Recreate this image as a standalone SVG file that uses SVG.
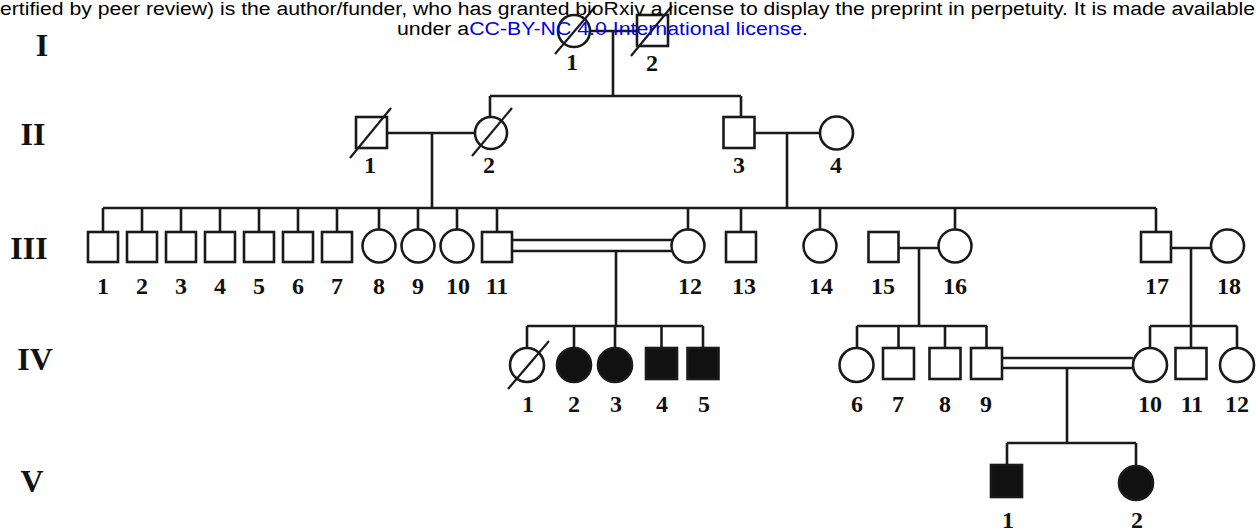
<svg xmlns="http://www.w3.org/2000/svg" width="1258" height="531" viewBox="0 0 1258 531">
<style>
.s{fill:#fff;stroke:#1a1a1a;stroke-width:2.6}
.a{fill:#111;stroke:#1a1a1a;stroke-width:2.6}
.d{stroke:#1a1a1a;stroke-width:2.2;fill:none}
.c{stroke:#1a1a1a;stroke-width:2.6;fill:none}
.n{font-family:"Liberation Serif","Times New Roman",serif;font-weight:bold;font-size:24px;fill:#111;text-anchor:middle}
.g{font-family:"Liberation Serif","Times New Roman",serif;font-weight:bold;font-size:32px;fill:#111;text-anchor:middle}
.h{font-family:"Liberation Sans",Arial,sans-serif;font-size:18px;fill:#000}
.b{fill:#0000ee}
</style>
<rect width="1258" height="531" fill="#fff"/>
<g id="generations">
<text class="g" x="42" y="56">I</text>
<text class="g" x="33" y="145">II</text>
<text class="g" x="29" y="259">III</text>
<text class="g" x="35" y="370">IV</text>
<text class="g" x="32" y="492">V</text>
</g>
<g id="connectors">
<path class="c" d="M590 31H637M613 31V96M490 96H741M490 96V117M741 96V117"/>
<path class="c" d="M387 133H475M432 133V208M754 133H820M787 133V208"/>
<path class="c" d="M103 208H1156M103 208V232M142 208V232M181 208V232M220 208V232M259 208V232M298 208V232M337 208V232M379 208V229.5M418 208V229.5M457 208V229.5M497 208V232M688 208V229.5M741 208V232M820 208V229.5M955 208V229.5M1156 208V232"/>
<path class="c" d="M512 240H672M512 251H672M616 251V326"/>
<path class="c" d="M899 248H938M919 248V326M1171 248H1211M1191 248V326"/>
<path class="c" d="M527 326H703M527 326V348M574 326V348M615 326V348M661.5 326V348M703 326V348"/>
<path class="c" d="M857 326H987M857 326V348M898.5 326V348M945 326V348M986.5 326V348M1150 326H1237M1150 326V348M1191 326V348M1237 326V348"/>
<path class="c" d="M1002 358H1133M1002 368H1133M1067 368V443M1007 443H1136M1007 443V465M1136 443V466"/>
</g>
<g id="I-1"><circle class="s" cx="574" cy="31" r="16"/><path class="d" d="M555 54L595 7"/><text class="n" x="572" y="70">1</text></g>
<g id="I-2"><rect class="s" x="637" y="15" width="31" height="31"/><path class="d" d="M631 56L672 6"/><text class="n" x="652" y="71">2</text></g>
<g id="II-1"><rect class="s" x="356" y="117" width="31" height="31"/><path class="d" d="M350 158L391 108"/><text class="n" x="370" y="173">1</text></g>
<g id="II-2"><circle class="s" cx="491" cy="133" r="16"/><path class="d" d="M472 156L512 108"/><text class="n" x="489" y="173">2</text></g>
<g id="II-3"><rect class="s" x="723.5" y="117" width="31" height="31"/><text class="n" x="739" y="173">3</text></g>
<g id="II-4"><circle class="s" cx="836.5" cy="133" r="16.5"/><text class="n" x="836" y="173">4</text></g>
<g id="III-1"><rect class="s" x="88" y="232" width="30" height="30"/><text class="n" x="103" y="294">1</text></g>
<g id="III-2"><rect class="s" x="127" y="232" width="30" height="30"/><text class="n" x="142" y="294">2</text></g>
<g id="III-3"><rect class="s" x="166" y="232" width="30" height="30"/><text class="n" x="181" y="294">3</text></g>
<g id="III-4"><rect class="s" x="205" y="232" width="30" height="30"/><text class="n" x="220" y="294">4</text></g>
<g id="III-5"><rect class="s" x="244" y="232" width="30" height="30"/><text class="n" x="259" y="294">5</text></g>
<g id="III-6"><rect class="s" x="283" y="232" width="30" height="30"/><text class="n" x="298" y="294">6</text></g>
<g id="III-7"><rect class="s" x="322" y="232" width="30" height="30"/><text class="n" x="337" y="294">7</text></g>
<g id="III-8"><circle class="s" cx="379" cy="246" r="16.5"/><text class="n" x="379" y="294">8</text></g>
<g id="III-9"><circle class="s" cx="418" cy="246" r="16.5"/><text class="n" x="418" y="294">9</text></g>
<g id="III-10"><circle class="s" cx="457" cy="246" r="16.5"/><text class="n" x="458" y="294">10</text></g>
<g id="III-11"><rect class="s" x="482" y="232" width="30" height="30"/><text class="n" x="497" y="294">11</text></g>
<g id="III-12"><circle class="s" cx="688" cy="246" r="16.5"/><text class="n" x="690" y="294">12</text></g>
<g id="III-13"><rect class="s" x="726" y="232" width="30" height="30"/><text class="n" x="744" y="294">13</text></g>
<g id="III-14"><circle class="s" cx="820" cy="246" r="16.5"/><text class="n" x="821" y="294">14</text></g>
<g id="III-15"><rect class="s" x="868.5" y="232" width="30" height="30"/><text class="n" x="883" y="294">15</text></g>
<g id="III-16"><circle class="s" cx="955" cy="246" r="16.5"/><text class="n" x="955" y="294">16</text></g>
<g id="III-17"><rect class="s" x="1141" y="232" width="30" height="30"/><text class="n" x="1157" y="294">17</text></g>
<g id="III-18"><circle class="s" cx="1227.5" cy="246" r="16.5"/><text class="n" x="1229" y="294">18</text></g>
<g id="IV-1"><circle class="s" cx="527" cy="365" r="17"/><path class="d" d="M508 389L549 341"/><text class="n" x="528" y="412">1</text></g>
<g id="IV-2"><circle class="a" cx="574" cy="365" r="17"/><text class="n" x="574" y="412">2</text></g>
<g id="IV-3"><circle class="a" cx="615" cy="365" r="17"/><text class="n" x="616" y="412">3</text></g>
<g id="IV-4"><rect class="a" x="646" y="348" width="31" height="31"/><text class="n" x="662" y="412">4</text></g>
<g id="IV-5"><rect class="a" x="687.5" y="348" width="31" height="31"/><text class="n" x="704" y="412">5</text></g>
<g id="IV-6"><circle class="s" cx="856.5" cy="365" r="17"/><text class="n" x="857" y="412">6</text></g>
<g id="IV-7"><rect class="s" x="883" y="348" width="31" height="31"/><text class="n" x="898" y="412">7</text></g>
<g id="IV-8"><rect class="s" x="929.5" y="348" width="31" height="31"/><text class="n" x="945" y="412">8</text></g>
<g id="IV-9"><rect class="s" x="971" y="348" width="31" height="31"/><text class="n" x="986" y="412">9</text></g>
<g id="IV-10"><circle class="s" cx="1150" cy="365" r="17"/><text class="n" x="1150" y="412">10</text></g>
<g id="IV-11"><rect class="s" x="1175.5" y="348" width="31" height="31"/><text class="n" x="1192" y="412">11</text></g>
<g id="IV-12"><circle class="s" cx="1237" cy="365" r="17"/><text class="n" x="1237" y="412">12</text></g>
<g id="V-1"><rect class="a" x="991" y="465" width="31" height="32"/><text class="n" x="1008" y="528">1</text></g>
<g id="V-2"><circle class="a" cx="1136" cy="483" r="17"/><text class="n" x="1137" y="528">2</text></g>
<g id="header">
<text class="h" x="0" y="15" textLength="1255" lengthAdjust="spacingAndGlyphs">ertified by peer review) is the author/funder, who has granted bioRxiv a license to display the preprint in perpetuity. It is made available</text>
<text class="h" x="397" y="35" textLength="411" lengthAdjust="spacingAndGlyphs">under a<tspan class="b">CC-BY-NC 4.0 International license</tspan>.</text>
</g>
</svg>
